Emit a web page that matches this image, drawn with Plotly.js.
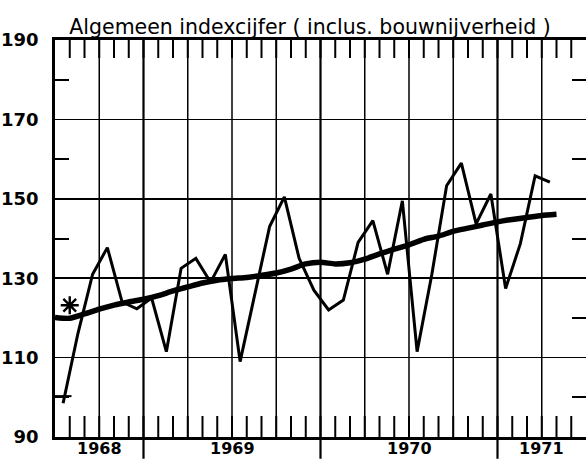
<!DOCTYPE html>
<html>
<head>
<meta charset="utf-8">
<script src="https://cdn.plot.ly/plotly-3.0.1.min.js"></script>
<style>html,body{margin:0;padding:0;background:#fff;}#chart{width:586px;height:461px;}</style>
</head>
<body>
<div id="chart"></div>
<script>
// Monthly index, July 1968 - April 1971
const months = ['1968-07','1968-08','1968-09','1968-10','1968-11','1968-12',
  '1969-01','1969-02','1969-03','1969-04','1969-05','1969-06','1969-07','1969-08','1969-09','1969-10','1969-11','1969-12',
  '1970-01','1970-02','1970-03','1970-04','1970-05','1970-06','1970-07','1970-08','1970-09','1970-10','1970-11','1970-12',
  '1971-01','1971-02','1971-03','1971-04'];
const indexValues = [98.5,116,131,137.7,124,122.3,
  125,111.5,132.5,135,129,136,109,126,143,150.5,135,127,
  122,124.5,139,144.5,131,149.5,111.5,131,153.3,159,143.7,151.2,
  127.4,138.7,155.8,154.2];
// Trend (smoothed) values at month starts, July 1968 - May 1971
const trendValues = [120.1,119.9,121.0,122.2,123.2,124.0,
  124.7,125.6,126.8,127.8,128.8,129.5,129.9,130.2,130.7,131.3,132.3,133.6,
  134.0,133.6,133.9,134.8,136.1,137.3,138.4,139.8,140.6,141.8,142.6,143.4,
  144.2,144.8,145.3,145.8,146.1];
const starY = [123.2];
const crossY = [100.3];
const yearLabels = ['1968','1969','1970','1971'];
const yLabels = [90,110,130,150,170,190];
const yMinor = [100,120,140,160,180];
const titleText = 'Algemeen indexcijfer ( inclus. bouwnijverheid )';

const yMin = 90, yMax = 190;
// month number counted from July 1968 (axis unit = one month)
const monthNo = s => { const [y, m] = s.split('-').map(Number); return (y - 1968) * 12 + (m - 7); };
const xMid = months.map(s => monthNo(s) + 0.55);
const xTrend = trendValues.map((_, i) => i);
const nMonths = 36;
const monthTicks = Array.from({length: nMonths + 1}, (_, i) => i);
const quarterLines = monthTicks.filter(i => i % 3 === 0 && i % 12 !== 6 && i > 0 && i < nMonths);
const yearLines = monthTicks.filter(i => i % 12 === 6);
const yearLabelPos = [monthNo('1968-07') + 3, monthNo('1969-01') + 6, monthNo('1970-01') + 6, monthNo('1971-01') + 3];

const plotH = 461 - 40 - 24;
const unitsPerPx = (yMax - yMin) / plotH;
// monthly tick marks (bottom and top edges) as one broken line trace
const tickX = [], tickY = [];
monthTicks.filter(i => i > 0 && i < nMonths).forEach(d => {
  tickX.push(d, d, null, d, d, null);
  tickY.push(yMin, yMin + 21 * unitsPerPx, null, yMax - 18 * unitsPerPx, yMax, null);
});

const shapes = [];
quarterLines.forEach(d => shapes.push({type:'line', xref:'x', yref:'paper', x0:d, x1:d, y0:0, y1:1,
  line:{color:'#000', width:1.5}, layer:'below'}));
yearLines.forEach(d => shapes.push({type:'line', xref:'x', yref:'paper', x0:d, x1:d, y0:-0.055, y1:1,
  line:{color:'#000', width:2.2}, layer:'below'}));

const annotations = yearLabels.map((t, i) => ({text:t, x:yearLabelPos[i], xref:'x', yref:'paper', y:-0.028,
  xanchor:'center', yanchor:'middle', showarrow:false,
  font:{family:'DejaVu Sans', size:16, color:'#000', weight:'bold'}}));

const data = [
  {x: tickX, y: tickY, type:'scatter', mode:'lines', connectgaps:false, cliponaxis:false,
   line:{color:'#000', width:2}, hoverinfo:'skip'},
  {x: xMid, y: indexValues, type:'scatter', mode:'lines', line:{color:'#000', width:3}, hoverinfo:'skip'},
  {x: xTrend, y: trendValues, type:'scatter', mode:'lines', line:{color:'#000', width:5.5, shape:'spline', smoothing:0.6}, hoverinfo:'skip'},
  {x: [1.0], y: starY, type:'scatter', mode:'markers', marker:{symbol:'asterisk-open', size:15, color:'#000', line:{color:'#000', width:2.4}}},
  {x: [xMid[0]], y: crossY, type:'scatter', mode:'markers', marker:{symbol:'line-ew-open', size:12, color:'#000', line:{color:'#000', width:2}}}
];

const layout = {
  width:586, height:461,
  margin:{l:55, r:0, t:40, b:24},
  paper_bgcolor:'#fff', plot_bgcolor:'#fff',
  showlegend:false,
  title:{text:titleText, x:0.529, xanchor:'center', y:0.941, yanchor:'middle',
    font:{family:'DejaVu Sans', size:20.5, color:'#000'}},
  xaxis:{type:'linear', range:[0, nMonths], tickmode:'array', tickvals: monthTicks, ticks:'',
    showticklabels:false, showgrid:false, zeroline:false, showline:true, linecolor:'#000', linewidth:2.6, mirror:true},
  yaxis:{range:[yMin, yMax], tickvals: yLabels, ticks:'', showgrid:true, gridcolor:'#000', gridwidth:1.5,
    zeroline:false, showline:true, linecolor:'#000', linewidth:2.8,
    ticklabelstandoff:10,
    tickfont:{family:'DejaVu Sans', size:18, color:'#000', weight:'bold'},
    minor:{tickvals: yMinor, ticks:'inside', ticklen:14, tickwidth:2, tickcolor:'#000', showgrid:false}},
  yaxis2:{overlaying:'y', side:'right', range:[yMin, yMax], tickvals: yMinor, ticks:'inside', ticklen:14,
    tickwidth:2, tickcolor:'#000', showticklabels:false, showgrid:false, zeroline:false, showline:false},
  shapes: shapes,
  annotations: annotations
};
// invisible trace on the right y axis so its ticks are drawn
data.push({x: [0], y: [yMin], yaxis:'y2', type:'scatter', mode:'markers',
  marker:{opacity:0}, hoverinfo:'skip', showlegend:false});
Plotly.newPlot('chart', data, layout, {staticPlot:true, displayModeBar:false});
</script>
</body>
</html>
